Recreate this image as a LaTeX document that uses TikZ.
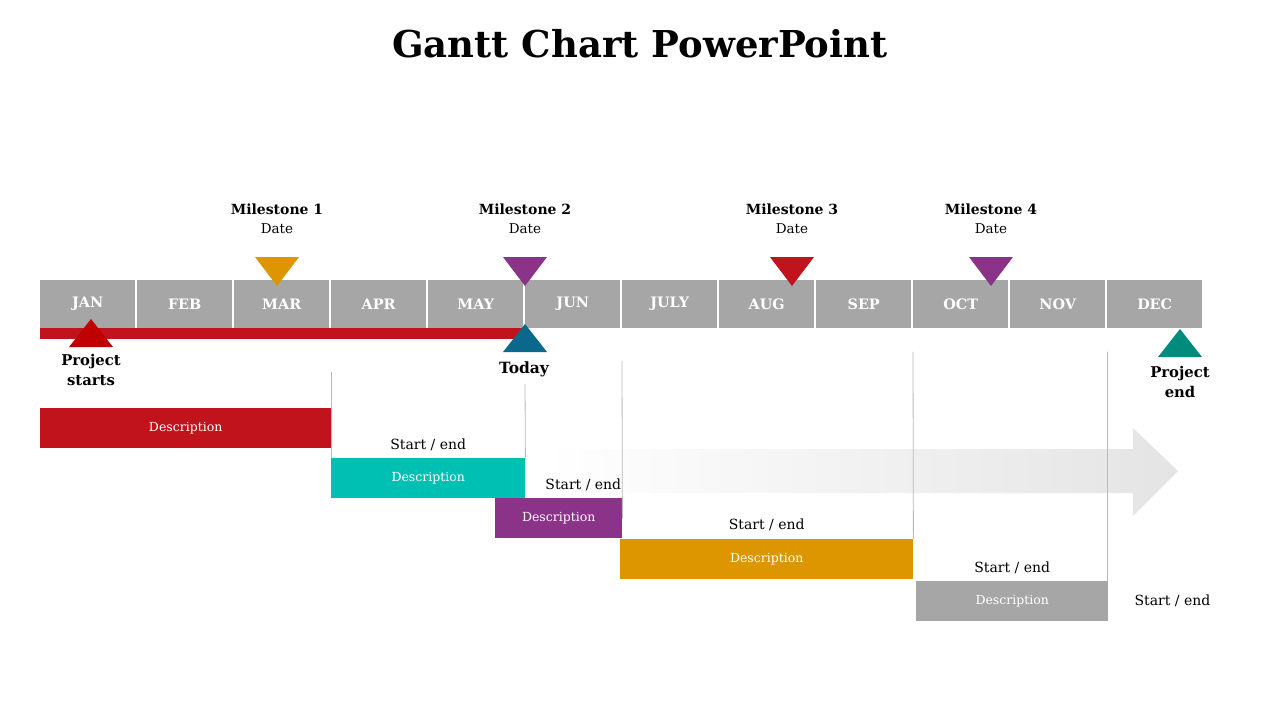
\documentclass[tikz,border=0pt]{standalone}
\usepackage{fontspec}
\setmainfont{DejaVu Serif}
\usetikzlibrary{positioning}
\definecolor{ganttgray}{RGB}{166,166,166}
\definecolor{ganttred}{RGB}{192,19,28}
\definecolor{gantttea}{RGB}{0,191,179}
\definecolor{ganttpurple}{RGB}{139,50,137}
\definecolor{ganttorange}{RGB}{221,149,0}
\definecolor{todayblue}{RGB}{10,104,140}
\definecolor{endteal}{RGB}{0,140,125}
\definecolor{startred}{RGB}{192,0,0}
\definecolor{arrowgray}{RGB}{228,228,228}
\definecolor{linegray}{RGB}{185,185,185}
\newcommand\uptri[3]{\fill[#3] (#1,#2)--(#1+22,#2+28)--(#1-22,#2+28)--cycle;}
\newcommand\downtri[3]{\fill[#3] (#1,#2)--(#1+22,#2-29)--(#1-22,#2-29)--cycle;}
\tikzset{
	month/.style={fill=ganttgray, minimum width=95pt, minimum height=48pt, inner sep=0pt, anchor=west, text=white, font=\fontsize{14.4}{16}\selectfont\bfseries},
	descbar/.style={minimum height=40pt, inner sep=0pt, anchor=north west, text=white, font=\fontsize{12.5}{14}\selectfont},
	startend/.style={inner sep=1pt, font=\fontsize{14}{16}\selectfont},
	mslabel/.style={align=center, inner sep=0pt, font=\fontsize{14}{19}\selectfont},
	endlabel/.style={align=center, inner sep=0pt, font=\fontsize{14.8}{20}\selectfont\bfseries},
	vline/.style={draw=linegray, line width=0.8pt}
}
\begin{document}
\begin{tikzpicture}[x=1pt, y=-1pt, line cap=round]
	\useasboundingbox (0,0) rectangle (1280,720);
	\node[font=\fontsize{37}{44}\selectfont\bfseries] (title) at (640,44) {Gantt Chart PowerPoint};
	% faded arrow behind the bars
	\shade[left color=white, right color=arrowgray] (545,449) -- (1133,449) -- (1133,428) -- (1178,471) -- (1133,516) -- (1133,493) -- (545,493) -- cycle;
	% months
	\foreach \m [count=\i] in {JAN,FEB,MAR,APR,MAY,JUN,JULY,AUG,SEP,OCT,NOV,DEC}
		\node[month] (m\i) at ({40+(\i-1)*97},304) {\m};
	\fill[ganttred] (m1.south west) rectangle (523,339);
	% milestones
	\foreach \x/\c [count=\i] in {277/ganttorange,525/ganttpurple,792/ganttred,991/ganttpurple}{
		\downtri{\x}{286}{\c}
		\node[mslabel] (ms\i) at (\x,219) {\textbf{Milestone \i}\\{\fontsize{13.5}{19}\selectfont Date}};
	}
	\uptri{91}{319}{startred}
	\uptri{525}{324}{todayblue}
	\uptri{1180}{329}{endteal}
	\node[endlabel] (pstart) at (91,370) {Project\\starts};
	\node[endlabel, font=\fontsize{15.5}{20}\selectfont\bfseries] (today) at (524,369) {Today};
	\node[endlabel] (pend) at (1180,382) {Project\\end};
	% tasks
	\node[descbar, fill=ganttred, minimum width=291pt] (d1) at (40,408) {Description};
	\node[descbar, fill=gantttea, minimum width=194pt] (d2) at (331,458) {Description};
	\node[descbar, fill=ganttpurple, minimum width=127pt] (d3) at (495,498) {Description};
	\node[descbar, fill=ganttorange, minimum width=293pt] (d4) at (620,539) {Description};
	\node[descbar, fill=ganttgray, minimum width=192pt] (d5) at (916,581) {Description};
	\coordinate (t1) at (331,372);
	\coordinate (t2) at (525,384);
	\coordinate (t3) at (622,361);
	\coordinate (t4) at (913,352);
	\coordinate (t5) at (1107,352);
	\draw[vline] (t1) -- (d2.north west);
	\draw[vline] (t2) -- (d2.north east);
	\draw[vline] (t3) -- (d3.east);
	\draw[vline] (t4) -- (d4.north east);
	\draw[vline] (t5) -- (t5 |- d5.north);
	\node[startend, above=6pt of d2] (s2) {Start / end};
	\node[startend, anchor=south east] (s3) at ([yshift=6pt]d3.north east) {Start / end};
	\node[startend, above=7pt of d4] (s4) {Start / end};
	\node[startend, above=6pt of d5] (s5) {Start / end};
	\node[startend, right=25pt of d5] (s6) {Start / end};
\end{tikzpicture}
\end{document}
